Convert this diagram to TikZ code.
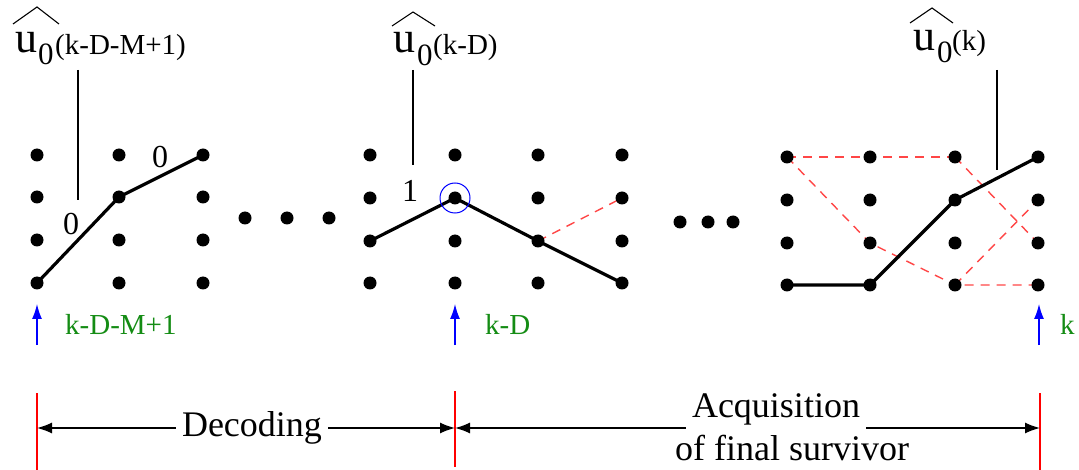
\documentclass[tikz,border=0pt]{standalone}
\usepackage{fontspec}
\setmainfont{Liberation Serif}
\newfontfamily\timesfont{Liberation Serif}
\usetikzlibrary{arrows.meta}
\definecolor{dgreen}{RGB}{20,140,20}
\definecolor{lred}{RGB}{255,70,70}
\pgfdeclarelayer{bg}
\pgfsetlayers{bg,main}
\begin{document}
\begin{tikzpicture}[x=1pt,y=-1pt,
  dot/.style={circle,fill=black,inner sep=0pt,minimum size=13pt},
  survivor/.style={line width=3.2pt,line join=round},
  reddash/.style={lred,line width=1.4pt,dash pattern=on 9pt off 7pt},
  leader/.style={line width=1.3pt},
  hatline/.style={line width=1.1pt},
  ubig/.style={inner sep=0pt,anchor=base west,font=\timesfont\fontsize{44}{44}\selectfont},
  usub/.style={inner sep=0pt,anchor=base west,font=\timesfont\fontsize{31}{31}\selectfont},
  uarg/.style={inner sep=0pt,anchor=base west,font=\timesfont\fontsize{29}{29}\selectfont},
  edgelbl/.style={inner sep=0pt,font=\timesfont\fontsize{32}{32}\selectfont},
  glabel/.style={inner sep=0pt,anchor=west,text=dgreen,font=\timesfont\fontsize{29}{29}\selectfont},
  barrow/.style={blue,line width=1.4pt,-{Latex[length=15pt,width=10pt]}},
  redbar/.style={red,line width=1.6pt},
  spanarrow/.style={line width=1.4pt,-{Latex[length=15pt,width=11pt]}},
  bigtext/.style={inner sep=0pt,font=\timesfont\fontsize{36}{38}\selectfont}]
\useasboundingbox (0,0) rectangle (1079,470);

% ---- grids of states
\foreach \c/\x in {1/37,2/119,3/203}{
  \foreach \r/\y in {1/155,2/197,3/240,4/283}{
    \node[dot] (L\c\r) at (\x,\y) {};
  }
}
\foreach \c/\x in {1/370,2/455,3/538,4/622}{
  \foreach \r/\y in {1/155,2/198,3/241,4/283}{
    \node[dot] (M\c\r) at (\x,\y) {};
  }
}
\foreach \c/\x in {1/787,2/870,3/955,4/1038}{
  \foreach \r/\y in {1/157,2/200,3/243,4/285}{
    \node[dot] (R\c\r) at (\x,\y) {};
  }
}

% ---- ellipsis dots
\node[dot] (e1) at (245,218) {};
\node[dot] (e2) at (287,218) {};
\node[dot] (e3) at (329,218) {};
\node[dot] (e4) at (680,222) {};
\node[dot] (e5) at (708,222) {};
\node[dot] (e6) at (733,222) {};

% ---- paths
\begin{pgfonlayer}{bg}
\draw[survivor] (L14.center) -- (L22.center) -- (L31.center);
\draw[reddash] (M33.center) -- (M42.center);
\draw[survivor] (M13.center) -- (M22.center) -- (M33.center) -- (M44.center);
\draw[reddash] (R11.center) -- (R21.center) -- (R31.center);
\draw[reddash] (R11.center) -- (R23.center) -- (R34.center) -- (R44.center);
\draw[reddash] (R31.center) -- (R43.center);
\draw[reddash] (R34.center) -- (R42.center);
\draw[survivor] (R14.center) -- (R24.center) -- (R32.center) -- (R41.center);
\end{pgfonlayer}

% ---- selected state
\node[draw=blue,circle,line width=1pt,minimum size=30pt,inner sep=0pt] (sel) at (M22) {};

% ---- branch labels
\node[edgelbl] (b0a) at (71,224) {0};
\node[edgelbl] (b0b) at (160,157) {0};
\node[edgelbl] (b1) at (410,191) {1};

% ---- decision labels
\node[ubig] (u1) at (15,53) {u};
\node[usub] (s1) at (38,65) {0};
\node[uarg] (a1) at (55,55) {(k-D-M+1)};
\draw[hatline] (13,24) -- (37,7) -- (59,24);

\node[ubig] (u2) at (393,53) {u};
\node[usub] (s2) at (417,66) {0};
\node[uarg] (a2) at (433,55) {(k-D)};
\draw[hatline] (392,26) -- (413,12) -- (435,26);

\node[ubig] (u3) at (913,51) {u};
\node[usub] (s3) at (937,63) {0};
\node[uarg] (a3) at (952,51) {(k)};
\draw[hatline] (910,23) -- (932,8) -- (953,23);

% ---- leader lines
\coordinate (t1) at (78,70);  \coordinate (f1) at (78,200);
\coordinate (t2) at (413,70); \coordinate (f2) at (413,165);
\coordinate (t3) at (997,70); \coordinate (f3) at (997,170);
\draw[leader] (t1) -- (f1);
\draw[leader] (t2) -- (f2);
\draw[leader] (t3) -- (f3);

% ---- time markers
\coordinate (p1) at (37,345);   \coordinate (q1) at (37,304);
\coordinate (p2) at (455,345);  \coordinate (q2) at (455,304);
\coordinate (p3) at (1039,345); \coordinate (q3) at (1039,304);
\draw[barrow] (p1) -- (q1);
\draw[barrow] (p2) -- (q2);
\draw[barrow] (p3) -- (q3);
\node[glabel] (g1) at (65,324) {k-D-M+1};
\node[glabel] (g2) at (485,324) {k-D};
\node[glabel] (g3) at (1060,324) {k};

% ---- spans
\coordinate (r1t) at (37,393);   \coordinate (r1b) at (37,470);
\coordinate (r2t) at (455,391);  \coordinate (r2b) at (455,467);
\coordinate (r3t) at (1040,393); \coordinate (r3b) at (1040,470);
\draw[redbar] (r1t) -- (r1b);
\draw[redbar] (r2t) -- (r2b);
\draw[redbar] (r3t) -- (r3b);

\coordinate (d1) at (37,428);
\coordinate (d2) at (455,428);
\coordinate (d3) at (1040,428);
\node[bigtext] (dec) at (252,428) {Decoding};
\draw[spanarrow] (dec.west |- d1) ++(-6,0) -- (d1);
\draw[spanarrow] (dec.east |- d2) ++(6,0) -- (d2);

\node[bigtext] (acq) at (776,409) {Acquisition};
\node[bigtext] (fin) at (792,448) {of final survivor};
\draw[spanarrow] (acq.west |- d2) ++(-6,0) -- (d2);
\draw[spanarrow] (acq.east |- d3) ++(6,0) -- (d3);
\end{tikzpicture}
\end{document}
